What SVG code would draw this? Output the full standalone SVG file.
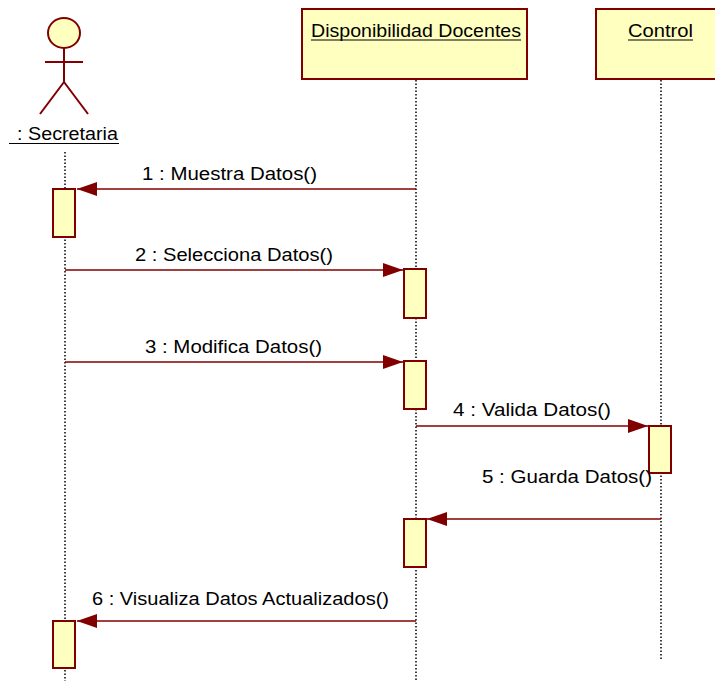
<svg xmlns="http://www.w3.org/2000/svg" width="715" height="681" viewBox="0 0 715 681">
<style>
.box{fill:#ffffc0;stroke:#800000;stroke-width:2}
.act{fill:#ffffc0;stroke:#800000;stroke-width:2}
.life{stroke:#000;stroke-width:1.5;stroke-dasharray:1.5,2;fill:none}
.msg{stroke:#800000;stroke-width:1.5;fill:none;marker-end:url(#ah)}
.t{font-family:"Liberation Sans",Arial,sans-serif;font-size:17.5px;fill:#000}
.fig{stroke:#800000;stroke-width:2;fill:none}
</style>
<defs>
<marker id="ah" markerWidth="22" markerHeight="16" refX="20" refY="7" orient="auto" markerUnits="userSpaceOnUse">
<path d="M0,0 L20,7 L0,14 Z" fill="#800000"/>
</marker>
</defs>
<rect width="715" height="681" fill="#fff"/>
<g id="secretaria">
<ellipse cx="64" cy="33" rx="16" ry="15" fill="#ffffc0" stroke="#800000" stroke-width="2"/>
<line class="fig" x1="64" y1="48" x2="64" y2="82"/>
<line class="fig" x1="45" y1="62" x2="83" y2="62"/>
<line class="fig" x1="64" y1="82" x2="40" y2="114"/>
<line class="fig" x1="64" y1="82" x2="88" y2="114"/>
<text class="t" x="17" y="140" textLength="101" lengthAdjust="spacingAndGlyphs">: Secretaria</text>
<line x1="9" y1="143.5" x2="119" y2="143.5" stroke="#000" stroke-width="1.2"/>
<line class="life" x1="65" y1="152" x2="65" y2="681"/>
<rect class="act" x="53" y="189" width="22" height="48"/>
<rect class="act" x="53" y="621" width="22" height="47"/>
</g>
<g id="disponibilidad">
<rect class="box" x="302" y="9" width="225" height="70"/>
<text class="t" x="311" y="37" textLength="210" lengthAdjust="spacingAndGlyphs">Disponibilidad Docentes</text>
<line x1="311" y1="40" x2="521" y2="40" stroke="#000" stroke-width="1.2"/>
<line class="life" x1="416" y1="80" x2="416" y2="681"/>
<rect class="act" x="404" y="269" width="22" height="49"/>
<rect class="act" x="404" y="361" width="22" height="48"/>
<rect class="act" x="404" y="519" width="22" height="48"/>
</g>
<g id="control">
<rect class="box" x="596" y="9" width="125" height="70"/>
<text class="t" x="628" y="37" textLength="65" lengthAdjust="spacingAndGlyphs">Control</text>
<line x1="628" y1="40" x2="693" y2="40" stroke="#000" stroke-width="1.2"/>
<line class="life" x1="661" y1="80" x2="661" y2="661"/>
<rect class="act" x="649" y="426" width="22" height="47"/>
</g>
<g id="connectors">
<line class="msg" x1="416" y1="189" x2="77" y2="189"/>
<text class="t" x="142" y="180" textLength="175" lengthAdjust="spacingAndGlyphs">1 : Muestra Datos()</text>
<line class="msg" x1="65" y1="270" x2="403" y2="270"/>
<text class="t" x="135" y="261" textLength="198" lengthAdjust="spacingAndGlyphs">2 : Selecciona Datos()</text>
<line class="msg" x1="65" y1="362" x2="403" y2="362"/>
<text class="t" x="145" y="353" textLength="177" lengthAdjust="spacingAndGlyphs">3 : Modifica Datos()</text>
<line class="msg" x1="416" y1="426" x2="648" y2="426"/>
<text class="t" x="453" y="416" textLength="158" lengthAdjust="spacingAndGlyphs">4 : Valida Datos()</text>
<line class="msg" x1="661" y1="519" x2="427" y2="519"/>
<text class="t" x="482" y="483" textLength="170" lengthAdjust="spacingAndGlyphs">5 : Guarda Datos()</text>
<line class="msg" x1="416" y1="621" x2="77" y2="621"/>
<text class="t" x="92" y="605" textLength="297" lengthAdjust="spacingAndGlyphs">6 : Visualiza Datos Actualizados()</text>
</g>
</svg>
